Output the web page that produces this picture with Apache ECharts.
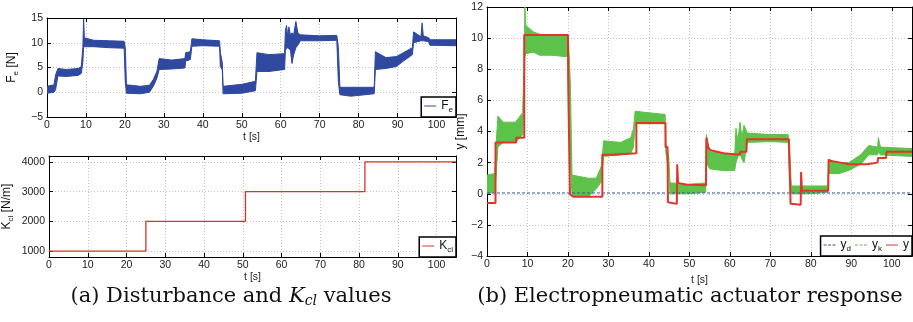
<!DOCTYPE html>
<html><head><meta charset="utf-8">
<script src="https://cdn.jsdelivr.net/npm/echarts@6/dist/echarts.min.js"></script>
<style>html,body{margin:0;padding:0;background:#fff}#c{width:913px;height:322px}</style>
</head><body><div id="c"></div>
<script>
// ---------- tick labels ----------
const tTicks = [0, 10, 20, 30, 40, 50, 60, 70, 80, 90, 100];
const feTicks = [-5, 0, 5, 10, 15];
const kclTicks = [1000, 2000, 3000, 4000];
const yTicks = [-4, -2, 0, 2, 4, 6, 8, 10, 12];

// ---------- (a) disturbance F_e : noisy band [t, low, high] ----------
const feBand = [
  [0, -0.2, 1.2], [1.8, 0, 1.5], [2.2, 0.5, 3.5], [2.8, 3.3, 4.8], [5, 3.2, 4.6],
  [8, 3.4, 4.8], [8.8, 3.8, 5.2], [9.2, 6, 9], [9.4, 9.2, 14.8], [9.6, 9.2, 11.0],
  [12, 9.2, 10.5], [16, 9.0, 10.4], [19.8, 8.9, 10.3], [20.1, 2, 9], [20.4, -0.2, 1.5],
  [24, -0.3, 1.2], [26.3, 0, 1.4], [27.3, 1.2, 2.6], [28.2, 2.8, 4.2], [28.8, 4.6, 6.8],
  [32, 4.7, 6.5], [35.4, 4.9, 6.8], [35.6, 6.3, 8], [36.8, 6.6, 8.2], [37.2, 9.3, 10.8],
  [40, 9.4, 10.6], [44.3, 9.3, 10.4], [44.5, 5.2, 8], [45.0, 4.5, 6], [45.2, -0.3, 1.2],
  [50, -0.2, 1.6], [53.5, 0.3, 2.2], [53.9, 4.2, 8.0], [57, 4.2, 7.6], [61, 4.6, 7.8],
  [61.2, 8.5, 12.5], [61.5, 8.8, 13.5], [61.8, 9.0, 11.2], [62.1, 8.8, 13.2], [62.5, 8.5, 11.5],
  [62.9, 5.8, 12.0], [63.3, 7.5, 11.5], [63.9, 9.0, 14.3], [64.4, 9.5, 12.0], [65, 10.4, 11.6],
  [70, 10.4, 11.4], [74.4, 10.5, 11.5], [74.8, 2, 9], [75.2, -0.5, 1.0], [78, -0.8, 1.0],
  [84, -0.3, 1.0], [84.3, 4.6, 8.2], [87, 4.8, 7.0], [89.7, 5.2, 7.2], [91.5, 6.3, 8.0],
  [93.8, 7.6, 9.0], [94.1, 10.0, 12.2], [96.0, 10.4, 11.2], [96.3, 10.4, 14.0], [96.6, 10.4, 11.4],
  [98, 10.2, 11.0], [98.3, 9.5, 10.6], [105, 9.4, 10.6]
];

// ---------- (a) K_cl steps ----------
const kclT = [0, 25, 50.7, 81.5, 105];
const kclV = [1000, 2000, 3000, 4000, 4000];

// ---------- (b) y_d ----------
const ydT = [0, 105];
const ydV = [0.05, 0.05];

// ---------- (b) y ----------
const yT = [0, 2.1, 2.1, 7.2, 7.2, 9.2, 9.2, 20.0, 20.1, 20.4, 20.5, 21.4, 28.5, 28.5, 31, 36.9, 36.9, 44.1, 44.1, 44.6,
  44.7, 46.9, 47.0, 47.2, 49, 54.1, 54.2, 54.6, 55.2, 58.5, 62.5, 62.6, 64.1, 64.2, 74.6, 74.8, 75.0, 77.5, 77.6, 77.8,
  84.3, 84.4, 85, 87.4, 89.4, 93.9, 94, 96.5, 96.6, 98.6, 98.7, 105];
const yV = [-0.6, -0.6, 3.3, 3.3, 3.6, 3.6, 10.2, 10.2, 6.4, 6.4, -0.05, -0.2, -0.2, 2.5, 2.5, 2.6, 4.55, 4.55, 3.0, 3.0,
  -0.55, -0.65, 1.9, 0.7, 0.6, 0.55, 3.6, 3.0, 2.8, 2.6, 2.5, 2.7, 2.7, 3.5, 3.5, 1.5, -0.65, -0.7, 1.4, 0.2,
  0.2, 2.2, 2.1, 2.0, 1.9, 1.9, 2.0, 2.0, 2.3, 2.3, 2.7, 2.7];

// ---------- (b) y_k : noisy band [t, low, high] ----------
const ykBand = [
  [0, 0, 1.2], [1.9, 0.1, 1.3], [2.2, 1.0, 3.0], [2.7, 3.0, 5.0], [4, 3.3, 4.6],
  [7, 3.3, 4.6], [8.2, 3.6, 5.0], [8.8, 3.8, 5.2], [9.2, 6.5, 8.5], [9.35, 8.8, 12.0],
  [9.6, 9.0, 10.8], [11.5, 9.1, 10.4], [13, 8.9, 10.25], [16, 8.9, 10.2], [19.9, 8.8, 10.2], [20.2, 5.5, 9.5],
  [20.6, 2, 7], [21.0, -0.1, 1.2], [25, -0.2, 1.0], [27, 0.3, 1.0], [28.3, 0.8, 1.8],
  [28.8, 2.4, 3.4], [33, 2.5, 3.3], [35.5, 2.6, 3.6], [36.2, 3.0, 4.2], [36.6, 4.5, 5.3],
  [40, 4.5, 5.2], [44, 4.5, 5.1], [44.2, 2.6, 3.2], [44.9, 1.5, 2.4], [45.2, 0, 0.7],
  [50, 0, 0.6], [54, 0.1, 0.7], [54.2, 2.0, 3.8], [55, 1.6, 2.7], [58, 1.5, 2.6],
  [61.2, 1.5, 2.5], [61.5, 2.0, 4.2], [62.0, 2.4, 3.4], [62.5, 2.6, 4.6], [63.0, 2.2, 3.6],
  [63.5, 2.0, 4.4], [64.3, 3.3, 3.9],
  [70, 3.35, 3.8], [74.4, 3.3, 3.8], [74.8, 0.5, 2.5], [75.2, 0, 0.5], [80, 0, 0.5],
  [84.2, 0.1, 0.5], [84.4, 1.3, 2.1], [87, 1.3, 2.0], [89.4, 1.5, 2.0], [92.3, 1.9, 2.5],
  [94, 2.4, 3.0], [94.3, 2.5, 3.1], [96.5, 2.5, 3.0], [96.7, 2.7, 3.6], [97.2, 2.5, 3.0],
  [105, 2.4, 2.9]
];

// ---------- styling ----------
const SANS = 'Liberation Sans, Arial, sans-serif';
const SERIF = 'DejaVu Serif, Liberation Serif, serif';
const C_FE = '#2f48a0', C_KCL = '#e0302a', C_YD = '#3b4fa8', C_YK = '#5cc24a', C_Y = '#e3342a';
const lbl = { fontFamily: SANS, fontSize: 10.5, color: '#222' };
const rich = {
  m: { fontFamily: SANS, fontSize: 12, color: '#111' },
  s: { fontFamily: SANS, fontSize: 8, color: '#111', padding: [8, 0, 0, 0] }
};
const minus = v => String(v).replace('-', '\u2212');
const pair = (t, v) => t.map((x, i) => [x, v[i]]);

const grids = [
  { left: 47, top: 18, width: 409, height: 99 },
  { left: 47, top: 156, width: 409, height: 101 },
  { left: 487, top: 7, width: 425, height: 249 }
];

function xAxes(gi) {
  return [
    { gridIndex: gi, type: 'value', min: 0, max: 105, interval: 10, position: 'bottom',
      name: 't [s]', nameLocation: 'middle', nameGap: 12, nameTextStyle: lbl,
      axisLine: { show: true, onZero: false, lineStyle: { color: '#000', width: 1 } },
      axisTick: { show: true, inside: true, length: 4, lineStyle: { color: '#000' } },
      axisLabel: Object.assign({ margin: 3, showMaxLabel: false }, lbl),
      splitLine: { show: true, lineStyle: { color: '#c4c4c4', type: [1, 2], width: 1 } } },
    { gridIndex: gi, type: 'value', min: 0, max: 105, interval: 10, position: 'top',
      axisLine: { show: true, onZero: false, lineStyle: { color: '#000', width: 1 } },
      axisTick: { show: true, inside: true, length: 4, lineStyle: { color: '#000' } },
      axisLabel: { show: false }, splitLine: { show: false } }
  ];
}
function yAxes(gi, min, max, interval, ticks, nameRich, gap) {
  const tickOpt = { show: true, inside: true, length: 4, lineStyle: { color: '#000' } };
  const labOpt = Object.assign({ margin: 4, formatter: minus }, lbl);
  if (ticks) { tickOpt.customValues = ticks; labOpt.customValues = ticks; }
  const base = { gridIndex: gi, type: 'value', min: min, max: max };
  if (interval) base.interval = interval;
  return [
    Object.assign({}, base, { position: 'left', name: nameRich, nameLocation: 'middle', nameGap: gap,
      nameTextStyle: { rich: rich },
      axisLine: { show: true, onZero: false, lineStyle: { color: '#000', width: 1 } },
      axisTick: tickOpt, axisLabel: labOpt,
      splitLine: { show: true, lineStyle: { color: '#c4c4c4', type: [1, 2], width: 1 } } }),
    Object.assign({}, base, { position: 'right',
      axisLine: { show: true, onZero: false, lineStyle: { color: '#000', width: 1 } },
      axisTick: Object.assign({}, tickOpt), axisLabel: { show: false }, splitLine: { show: false } })
  ];
}

function bandSeries(band, xi, yi, color, z) {
  return {
    type: 'custom', xAxisIndex: xi, yAxisIndex: yi, silent: true, z: z,
    data: band, encode: { x: 0, y: [1, 2] }, clip: true,
    renderItem: function (params, api) {
      if (params.dataIndex !== 0) return null;
      const up = band.map(r => api.coord([r[0], r[2]]));
      const lo = band.map(r => api.coord([r[0], r[1]])).reverse();
      return { type: 'polygon', shape: { points: up.concat(lo) },
        style: { fill: color, stroke: color, lineWidth: 1 } };
    }
  };
}

const SOLID = 'path://M0 0h12v1h-12z';
const DASH = 'path://M0 0h3v1h-3zM4.5 0h3v1h-3zM9 0h3v1h-3z';
const legendNames = { Fe: '{m|F}{s|e}', Kcl: '{m|K}{s|cl}', yd: '{m|y}{s|d}', yk: '{m|y}{s|k}', y: '{m|y}' };
function legend(items, right, bottom) {
  return { data: items, right: right, bottom: bottom, orient: 'horizontal', itemGap: 4,
    itemWidth: 12, itemHeight: 1.6, padding: [3, 3, 3, 3],
    borderColor: '#000', borderWidth: 1.5, backgroundColor: '#fff', borderRadius: 0,
    selectedMode: false, formatter: n => legendNames[n],
    textStyle: { rich: rich } };
}

const option = {
  animation: false,
  backgroundColor: '#fff',
  grid: grids,
  xAxis: [].concat(xAxes(0), xAxes(1), xAxes(2)),
  yAxis: [].concat(
    yAxes(0, -5, 15, 5, null, '{m|F}{s|e}{m| [N]}', 27),
    yAxes(1, 800, 4200, null, kclTicks, '{m|K}{s|cl}{m| [N/m]}', 34),
    yAxes(2, -4, 12, 2, null, '{m|y [mm]}', 17)
  ),
  legend: [
    legend([{ name: 'Fe', icon: SOLID }], 457, 205),
    legend([{ name: 'Kcl', icon: SOLID }], 457, 65),
    legend([{ name: 'yd', icon: DASH }, { name: 'yk', icon: DASH }, { name: 'y', icon: SOLID }], 1, 66)
  ],
  series: [
    bandSeries(feBand, 0, 0, C_FE, 2),
    { name: 'Fe', type: 'line', xAxisIndex: 0, yAxisIndex: 0, data: [], symbol: 'none',
      color: C_FE, lineStyle: { color: C_FE, width: 1.5 } },
    { name: 'Kcl', type: 'line', xAxisIndex: 2, yAxisIndex: 2, data: pair(kclT, kclV), step: 'end',
      symbol: 'none', color: C_KCL, lineStyle: { color: C_KCL, width: 1.3 } },
    bandSeries(ykBand, 4, 4, C_YK, 2),
    { name: 'yk', type: 'line', xAxisIndex: 4, yAxisIndex: 4, data: [], symbol: 'none',
      color: C_YK, lineStyle: { color: C_YK, width: 1.3, type: [3, 2] } },
    { name: 'yd', type: 'line', xAxisIndex: 4, yAxisIndex: 4, data: pair(ydT, ydV), symbol: 'none', z: 3,
      color: C_YD, lineStyle: { color: C_YD, width: 1, type: [3, 2] } },
    { name: 'y', type: 'line', xAxisIndex: 4, yAxisIndex: 4, data: pair(yT, yV), symbol: 'none', z: 4,
      color: C_Y, lineStyle: { color: C_Y, width: 2 } }
  ],
  graphic: [
    { type: 'text', x: 231, y: 297, style: {
      text: '{r|(a) Disturbance and }{i|K}{is|cl}{r| values}', align: 'center', verticalAlign: 'middle',
      rich: { r: { fontFamily: SERIF, fontSize: 21, fill: '#111' },
              i: { fontFamily: SERIF, fontSize: 21, fontStyle: 'italic', fill: '#111' },
              is: { fontFamily: SERIF, fontSize: 14, fontStyle: 'italic', fill: '#111', padding: [8, 0, 0, 0] } } } },
    { type: 'text', x: 690, y: 297, style: {
      text: '(b) Electropneumatic actuator response', align: 'center', verticalAlign: 'middle',
      font: '21px ' + SERIF, fill: '#111' } }
  ]
};
const chart = echarts.init(document.getElementById('c'), null, { renderer: 'canvas' });
chart.setOption(option);
</script></body></html>
